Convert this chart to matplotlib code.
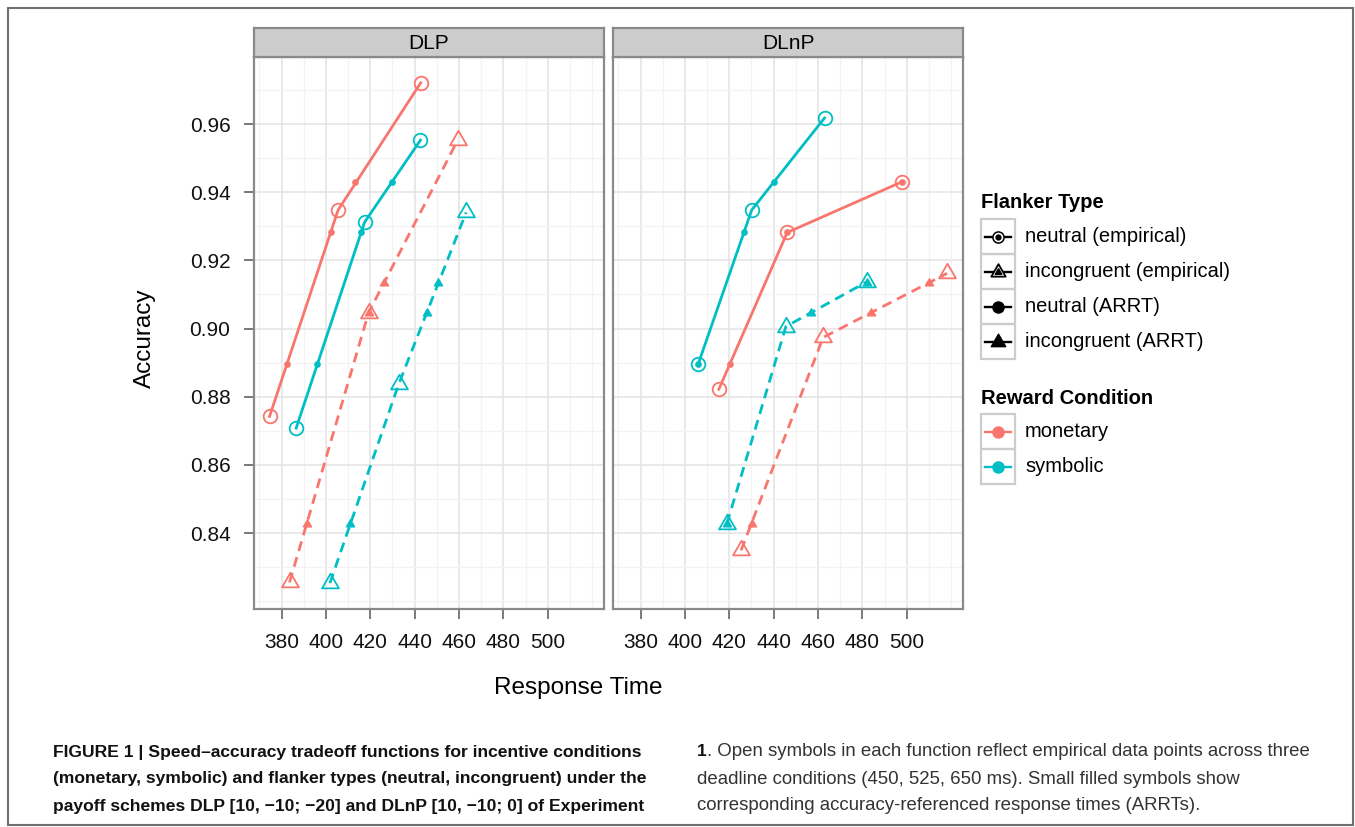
import numpy as np
import matplotlib
matplotlib.use('Agg')
import matplotlib.pyplot as plt
from matplotlib.patches import Rectangle
from matplotlib.path import Path
from matplotlib.ticker import MultipleLocator

plt.rcParams['font.family'] = ['Liberation Sans', 'DejaVu Sans']

# ---- data ----
panels = ['DLP', 'DLnP']
conditions = ['monetary', 'symbolic']
cond_colors = ['#F8766D', '#00BFC4']

# accuracy levels used for the ARRTs
arrt_neu_acc = [0.8896, 0.9282, 0.9431]
arrt_inc_acc = [0.8426, 0.9046, 0.9133]

# DLP, empirical
dlp_mon_neu_rt = [374.6, 405.5, 442.7]
dlp_mon_neu_acc = [0.8742, 0.9348, 0.9721]
dlp_sym_neu_rt = [386.6, 417.4, 442.6]
dlp_sym_neu_acc = [0.8708, 0.9312, 0.9553]
dlp_mon_inc_rt = [383.6, 419.2, 459.4]
dlp_mon_inc_acc = [0.8255, 0.9046, 0.9553]
dlp_sym_inc_rt = [401.8, 432.8, 463.2]
dlp_sym_inc_acc = [0.8253, 0.8837, 0.9341]
# DLP, ARRT response times
dlp_mon_neu_arrt = [382.3, 402.1, 413.0]
dlp_sym_neu_arrt = [396.1, 415.7, 429.9]
dlp_mon_inc_arrt = [391.4, 419.4, 426.2]
dlp_sym_inc_arrt = [411.0, 445.6, 450.4]

# DLnP, empirical
dlnp_mon_neu_rt = [415.3, 446.1, 497.9]
dlnp_mon_neu_acc = [0.8822, 0.9282, 0.9431]
dlnp_sym_neu_rt = [406.0, 430.1, 462.9]
dlnp_sym_neu_acc = [0.8896, 0.9348, 0.9618]
dlnp_mon_inc_rt = [425.3, 462.3, 518.1]
dlnp_mon_inc_acc = [0.8349, 0.8974, 0.9162]
dlnp_sym_inc_rt = [418.9, 445.5, 482.2]
dlnp_sym_inc_acc = [0.8427, 0.9006, 0.9138]
# DLnP, ARRT response times
dlnp_mon_neu_arrt = [420.4, 446.1, 497.9]
dlnp_sym_neu_arrt = [406.0, 426.5, 440.1]
dlnp_mon_inc_arrt = [430.1, 483.7, 510.2]
dlnp_sym_inc_arrt = [418.9, 456.9, 482.2]

x_ticks = [380, 400, 420, 440, 460, 480, 500]
y_ticks = [0.84, 0.86, 0.88, 0.90, 0.92, 0.94, 0.96]

series = {
    'DLP': [
        (dlp_mon_neu_rt, dlp_mon_neu_acc, dlp_mon_neu_arrt, arrt_neu_acc, 0, 'neu'),
        (dlp_sym_neu_rt, dlp_sym_neu_acc, dlp_sym_neu_arrt, arrt_neu_acc, 1, 'neu'),
        (dlp_mon_inc_rt, dlp_mon_inc_acc, dlp_mon_inc_arrt, arrt_inc_acc, 0, 'inc'),
        (dlp_sym_inc_rt, dlp_sym_inc_acc, dlp_sym_inc_arrt, arrt_inc_acc, 1, 'inc'),
    ],
    'DLnP': [
        (dlnp_mon_neu_rt, dlnp_mon_neu_acc, dlnp_mon_neu_arrt, arrt_neu_acc, 0, 'neu'),
        (dlnp_sym_neu_rt, dlnp_sym_neu_acc, dlnp_sym_neu_arrt, arrt_neu_acc, 1, 'neu'),
        (dlnp_mon_inc_rt, dlnp_mon_inc_acc, dlnp_mon_inc_arrt, arrt_inc_acc, 0, 'inc'),
        (dlnp_sym_inc_rt, dlnp_sym_inc_acc, dlnp_sym_inc_arrt, arrt_inc_acc, 1, 'inc'),
    ],
}

W, H = 1355, 827
fig = plt.figure(figsize=(W / 100, H / 100), dpi=100)

def px(x0, y0, x1, y1):
    # pixel box (top-left origin) -> figure fraction rect
    return [x0 / W, 1 - y1 / H, (x1 - x0) / W, (y1 - y0) / H]

# closed equilateral triangle, centred on its centroid
tri = Path([(-1, -0.577), (1, -0.577), (0, 1.155), (-1, -0.577)],
           [Path.MOVETO, Path.LINETO, Path.LINETO, Path.CLOSEPOLY])
border = '#8a8a8a'
lw = 2.0
fs = 15

panel_boxes = [(254, 57, 604, 609), (613, 57, 963, 609)]
strip_boxes = [(254, 28, 604, 57), (613, 28, 963, 57)]

for i, name in enumerate(panels):
    ax = fig.add_axes(px(*panel_boxes[i]))
    ax.set_xlim(367.6, 525.3)
    ax.set_ylim(0.8177, 0.9797)
    ax.xaxis.set_minor_locator(MultipleLocator(10))
    ax.yaxis.set_minor_locator(MultipleLocator(0.01))
    ax.set_xticks(x_ticks)
    ax.set_yticks(y_ticks)
    ax.grid(which='major', color='#e3e3e3', lw=1.1)
    ax.grid(which='minor', color='#f3f3f3', lw=0.9)
    ax.set_axisbelow(True)
    for s in ax.spines.values():
        s.set_color(border)
        s.set_linewidth(1.6)
    ax.tick_params(which='minor', length=0)
    ax.tick_params(which='major', direction='out', length=7, width=1.1,
                   color='#555555', labelsize=fs, labelcolor='#111111')
    ax.tick_params(axis='x', pad=10)
    ax.tick_params(axis='y', pad=10)
    if i == 0:
        ax.set_yticklabels(['%.2f' % v for v in y_ticks])
    else:
        ax.tick_params(axis='y', left=False, labelleft=False)

    for rt, acc, arrt, aacc, ci, kind in series[name]:
        col = cond_colors[ci]
        ls = '-' if kind == 'neu' else (0, (3.6, 2.3))
        ax.plot(rt, acc, color=col, lw=lw, linestyle=ls, zorder=3)
        if kind == 'neu':
            ax.plot(rt, acc, 'o', ms=9.8, mfc='none', mec=col, mew=1.3, zorder=4)
            ax.plot(arrt, aacc, 'o', ms=3.8, color=col, zorder=5)
        else:
            ax.plot(rt, acc, marker=tri, ls='none', ms=14, mfc='none', mec=col,
                    mew=1.3, zorder=4)
            ax.plot(arrt, aacc, marker=tri, ls='none', ms=6.8, color=col, zorder=5)

    sx = fig.add_axes(px(*strip_boxes[i]))
    sx.set_facecolor('#cccccc')
    sx.set_xticks([])
    sx.set_yticks([])
    for s in sx.spines.values():
        s.set_color(border)
        s.set_linewidth(1.6)
    sx.text(0.5, 0.45, name, ha='center', va='center', fontsize=fs,
            transform=sx.transAxes)

# overlay in pixel coordinates for titles, legend, caption and frame
ov = fig.add_axes([0, 0, 1, 1], facecolor='none')
ov.set_xlim(0, W)
ov.set_ylim(H, 0)
ov.axis('off')

ov.add_patch(Rectangle((7.5, 7.5), 1345, 817, fill=False, ec='#707070', lw=1.5))

ov.text(578, 688, 'Response Time', ha='center', va='center', fontsize=17.5)
ov.text(145, 338, 'Accuracy', ha='center', va='center', fontsize=17.5,
        rotation=90)

# legend
key_x0, key_w = 981, 34
ov.text(981, 203, 'Flanker Type', fontsize=14.5, weight='bold', va='center')
flank_labels = ['neutral (empirical)', 'incongruent (empirical)',
                'neutral (ARRT)', 'incongruent (ARRT)']
for k, lab in enumerate(flank_labels):
    y0 = 219 + k * 35
    ov.add_patch(Rectangle((key_x0, y0), key_w, 35, fill=False, ec='#cccccc', lw=1.6))
    cy = y0 + 17.5
    ov.plot([key_x0 + 4, key_x0 + key_w - 4], [cy, cy], color='black', lw=1.7)
    if k == 0:
        ov.plot(key_x0 + key_w / 2, cy, 'o', ms=8, mfc='white', mec='black', mew=1.1)
        ov.plot(key_x0 + key_w / 2, cy, 'o', ms=3.5, color='black')
    elif k == 1:
        ov.plot(key_x0 + key_w / 2, cy, marker=tri, ms=12, mfc='white', mec='black', mew=1.3)
        ov.plot(key_x0 + key_w / 2, cy, marker=tri, ms=5.5, color='black')
    elif k == 2:
        ov.plot(key_x0 + key_w / 2, cy, 'o', ms=8, color='black')
    else:
        ov.plot(key_x0 + key_w / 2, cy, marker=tri, ms=12, color='black')
    ov.text(1025, cy, lab, fontsize=14.5, va='center')

ov.text(981, 398, 'Reward Condition', fontsize=14.5, weight='bold', va='center')
for k, lab in enumerate(conditions):
    y0 = 414 + k * 35
    ov.add_patch(Rectangle((key_x0, y0), key_w, 35, fill=False, ec='#cccccc', lw=1.6))
    cy = y0 + 17.5
    ov.plot([key_x0 + 4, key_x0 + key_w - 4], [cy, cy], color=cond_colors[k], lw=1.7)
    ov.plot(key_x0 + key_w / 2, cy, 'o', ms=8, color=cond_colors[k])
    ov.text(1025, cy, lab, fontsize=14.5, va='center')

# caption
cap_left = ['FIGURE 1 | Speed\u2013accuracy tradeoff functions for incentive conditions',
            '(monetary, symbolic) and flanker types (neutral, incongruent) under the',
            'payoff schemes DLP [10, \u221210; \u221220] and DLnP [10, \u221210; 0] of Experiment']
cap_right = ['. Open symbols in each function reflect empirical data points across three',
             'deadline conditions (450, 525, 650 ms). Small filled symbols show',
             'corresponding accuracy-referenced response times (ARRTs).']
cap_y = [752, 779, 806]
for y, line in zip(cap_y, cap_left):
    ov.text(53, y, line, fontsize=12.6, weight='bold', va='center', color='#111111')

one = ov.text(697, cap_y[0], '1', fontsize=12.6, weight='bold', va='center', color='#111111')
fig.canvas.draw()
x_after = one.get_window_extent().x1
ov.text(x_after, cap_y[0], cap_right[0], fontsize=13.4, va='center', color='#333333')
for y, line in zip(cap_y[1:], cap_right[1:]):
    ov.text(697, y, line, fontsize=13.4, va='center', color='#333333')

fig.savefig('out.png', dpi=100)
